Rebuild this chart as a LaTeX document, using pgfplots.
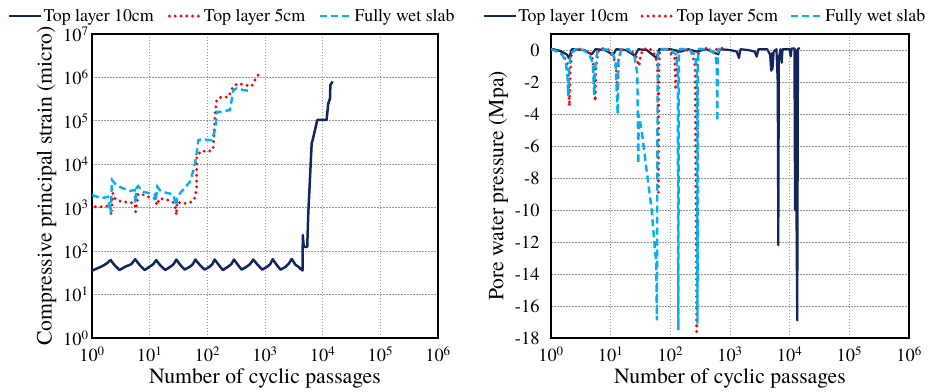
\documentclass[border=0pt]{standalone}
\usepackage{pgfplots}
\pgfplotsset{compat=1.18}
\usepackage{fontspec}
\setmainfont{texgyretermes-regular.otf}[BoldFont=texgyretermes-bold.otf, ItalicFont=texgyretermes-italic.otf]
\definecolor{navy}{RGB}{16,38,92}
\definecolor{wred}{RGB}{255,0,0}
\definecolor{lblue}{RGB}{0,176,240}
\pgfplotsset{
 mystyle/.style={
  scale only axis, anchor=south west,
  axis line style={line width=1.5bp},
  grid=major, major grid style={gray!80, line width=0.8bp, dash pattern=on 1.5bp off 1.5bp},
  major tick length=0pt, minor tick length=0pt,
  tick label style={font=\rmfamily\fontsize{18.5}{21}\selectfont},
  xticklabel style={yshift=-5bp},
  label style={font=\rmfamily\fontsize{21.8}{25}\selectfont},
  xlabel style={yshift=0bp},
  legend style={draw=none, fill=none, font=\rmfamily\fontsize{17.9}{21}\selectfont, legend columns=3, inner sep=0pt,
    /tikz/every even column/.append style={column sep=12bp}, nodes={inner sep=1bp}},
  legend image code/.code={\draw[##1] (0bp,0bp) -- (32bp,0bp);},
  legend cell align=left,
 },
 s10/.style={navy, line width=2.5bp, line join=round},
 s5/.style={wred, line width=3.2bp, line cap=round, dash pattern=on 0bp off 5.8bp},
 sw/.style={lblue, line width=2.4bp, dash pattern=on 7bp off 4bp},
}
\begin{document}
\begin{tikzpicture}
\useasboundingbox (0,0) rectangle (931bp,392bp);
\begin{axis}[mystyle, at={(92bp,54bp)}, width=346bp, height=304bp,
  xmode=log, ymode=log, xmin=1, xmax=1e6, ymin=1, ymax=1e7,
  xtick={1e0,1e1,1e2,1e3,1e4,1e5,1e6},
  xticklabels={10\textsuperscript{0},10\textsuperscript{1},10\textsuperscript{2},10\textsuperscript{3},10\textsuperscript{4},10\textsuperscript{5},10\textsuperscript{6}},
  ytick={1e0,1e1,1e2,1e3,1e4,1e5,1e6,1e7},
  yticklabels={10\textsuperscript{0},10\textsuperscript{1},10\textsuperscript{2},10\textsuperscript{3},10\textsuperscript{4},10\textsuperscript{5},10\textsuperscript{6},10\textsuperscript{7}},
  xlabel={Number of cyclic passages},
  ylabel={Compressive principal strain (micro)},
  legend style={at={(rel axis cs:-0.243,1.059)}, anchor=west, /tikz/every even column/.append style={column sep=13bp}}]
\addplot[s10] coordinates {(1,35.5) (1.5,45) (1.8,52) (2.1,62.5) (2.45,48) (3.0,36.8) (3.8,44) (4.8,50) (5.6,65) (6.7,48) (8.2,36.8) (10,44) (11.5,50) (13,62) (15.5,46) (18.7,36.8) (23,44) (26,50) (29,64) (34,48) (40.4,37.5) (50,44) (56,50) (62,64) (74,48) (90,37.5) (110,44) (122,50) (134,64) (158,48) (186,36.8) (230,44) (260,50) (290,64) (340,48) (394,37.5) (480,44) (550,50) (627,64) (750,48) (898,37.5) (1100,44) (1230,50) (1358,65) (1600,48) (1864,37.5) (2300,44) (2600,52) (2900,66) (3400,48) (3780,44) (4330,37) (4500,36) (4520,235) (4700,126) (5400,126) (5630,743) (6450,30400) (6700,36000) (7360,61500) (8070,105000) (11700,105000) (12500,250000) (13400,330000) (13600,670000) (14900,800000)};
\addlegendentry{Top layer 10cm}
\addplot[s5] coordinates {(1.14,1050) (1.66,1050) (2.03,1150) (2.16,680) (2.31,2150) (2.47,1650) (3.2,1380) (4.5,1330) (5.5,1260) (5.7,810) (6.3,2080) (7.2,2050) (9.4,1790) (12.2,1650) (13.4,1150) (14.9,1650) (20.8,1500) (25.4,1330) (27.9,1020) (29,680) (30,1380) (35.4,1260) (46,1260) (56,1420) (62,1790) (65,2800) (65.5,14900) (78,20500) (104,19500) (126,22000) (130,43500) (136,136000) (145,300000) (177,360000) (231,350000) (282,630000) (344,730000) (450,670000) (588,630000) (671,870000) (765,1140000)};
\addlegendentry{Top layer 5cm}
\addplot[sw] coordinates {(1,1960) (1.45,1650) (1.89,1790) (2.03,1050) (2.11,740) (2.15,1500) (2.22,4350) (2.64,3300) (3.45,2800) (4.5,2450) (5.5,2550) (5.6,1260) (5.9,2800) (6.3,3150) (7.7,2330) (10,2150) (12.2,2050) (12.7,1380) (13.6,3050) (14.9,2550) (19.4,2200) (25.4,2050) (27.2,1500) (29,1100) (30,1790) (33.6,2150) (40,2800) (50,3980) (57,7000) (61,10500) (66,20000) (70,36000) (80,37500) (119,36000) (136,62000) (149,162000) (177,162000) (247,178000) (282,510000) (323,560000) (421,510000) (550,490000)};
\addlegendentry{Fully wet slab}
\end{axis}
\begin{axis}[mystyle, at={(551bp,54bp)}, width=358bp, height=304bp,
  xmode=log, xmin=1, xmax=1e6, ymin=-18, ymax=1,
  xtick={1e0,1e1,1e2,1e3,1e4,1e5,1e6},
  xticklabels={10\textsuperscript{0},10\textsuperscript{1},10\textsuperscript{2},10\textsuperscript{3},10\textsuperscript{4},10\textsuperscript{5},10\textsuperscript{6}},
  ytick={-18,-16,-14,-12,-10,-8,-6,-4,-2,0},
  yticklabels={-18,-16,-14,-12,-10,-8,-6,-4,-2,0},
  yticklabel style={xshift=-8bp},
  xlabel={Number of cyclic passages},
  ylabel={Pore water pressure (Mpa)},
  legend style={at={(rel axis cs:-0.19,1.059)}, anchor=west, /tikz/every even column/.append style={column sep=11bp}}]
\addplot[s10, line width=2.2bp] coordinates {(1,0.08) (1.4,-0.05) (1.83,-0.27) (2.0,-0.5) (2.24,0.05) (3.5,0.0) (4.8,-0.27) (5.6,0.05) (8,0.0) (11,-0.3) (12.4,0.05) (18,0.0) (25.5,-0.37) (29,0.05) (40,0.0) (59,-0.5) (65,0.05) (100,0.05) (150,-0.1) (200,0.05) (277,-0.1) (400,0.05) (635,-0.27) (680,0.05) (1000,0.0) (1300,-0.1) (1410,-0.5) (1500,0.05) (2000,0.0) (2600,-0.1) (2800,-0.42) (3000,0.05) (4200,0.05) (4700,-0.3) (4900,-1.3) (5000,-0.2) (5150,-1.2) (5400,-0.1) (6000,0.05) (6300,-2) (6450,-12.2) (6600,-0.5) (7000,0.05) (7350,-0.8) (7600,0.05) (10000,0.05) (10400,-0.4) (10800,0.1) (12000,0.1) (12300,-10) (12700,0.0) (13100,-12.4) (13400,-16.9) (13800,0.1) (14900,0.1)};
\addlegendentry{Top layer 10cm}
\addplot[s5] coordinates {(1,0.05) (1.3,-0.1) (1.6,-0.35) (1.85,-0.7) (1.97,-1.5) (2.03,-3.5) (2.1,-1.5) (2.2,-0.3) (2.6,0.05) (3.5,0.05) (4.5,-0.2) (5.0,-0.6) (5.3,-1.5) (5.5,-3.2) (5.7,-1) (6.2,-0.1) (7,0.1) (9,0.05) (11,-0.4) (12.3,-1) (13,-2.6) (13.6,-0.6) (15,0) (20,0.05) (26,-0.3) (28.5,-0.8) (30,-1.0) (31.5,-0.4) (35,0.05) (45,0.1) (55,-0.3) (60,-0.8) (62,-2) (63,-8.9) (64.5,-1) (67,0.05) (90,0.05) (118,-0.5) (123,-2.5) (128,-0.4) (140,0.05) (180,0.05) (230,-0.2) (260,-1) (277,-17.6) (285,-1) (300,0.05) (400,0.1) (500,-0.1) (600,0.05) (700,0.1) (760,0.12)};
\addlegendentry{Top layer 5cm}
\addplot[sw] coordinates {(1,0.05) (1.3,-0.1) (1.55,-0.3) (1.75,-0.7) (1.88,-1.5) (1.95,-2.9) (2.02,-1.0) (2.15,-0.2) (2.6,0.05) (3.5,0.0) (4.4,-0.3) (5.0,-0.8) (5.3,-2.8) (5.6,-0.8) (6.0,-0.1) (8,0.05) (10,-0.05) (12,-0.6) (13.1,-4.0) (13.5,-0.6) (15,0.0) (20,0.05) (25,-0.4) (28,-1.5) (29.1,-7.1) (29.5,-4) (33,-5) (40,-7.5) (48.7,-10) (55.3,-12.5) (58,-13.3) (59.6,-16.9) (61,-3) (62,-0.1) (70,0.05) (100,0.05) (125,-0.3) (133,-1.5) (136,-17.5) (139,-0.5) (145,0.05) (200,0.05) (260,-0.3) (280,-1.5) (285,-17.1) (290,-0.5) (300,0.05) (450,0.05) (570,-0.3) (600,-1) (612,-4.45) (625,-0.3) (650,0.05) (700,0.05)};
\addlegendentry{Fully wet slab}
\end{axis}
\end{tikzpicture}
\end{document}
